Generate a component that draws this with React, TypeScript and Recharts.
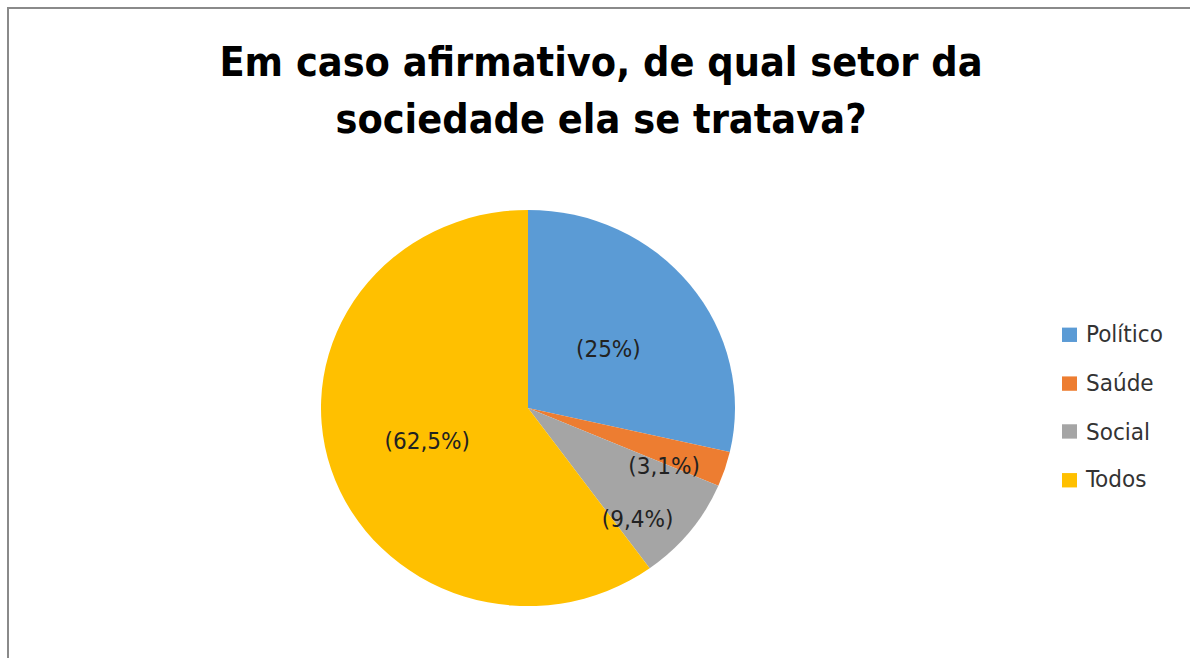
import { PieChart, Pie, Cell, Legend } from 'recharts'

const SECTORS = ['Político', 'Saúde', 'Social', 'Todos']
const COUNTS = [10, 1, 3, 21]
const LABELS = ['(25%)', '(3,1%)', '(9,4%)', '(62,5%)']
const COLORS = ['#5B9BD5', '#ED7D31', '#A5A5A5', '#FFC000']
// label placement: share of radius and angle nudge (deg) off the slice middle
const LABEL_POS = [0.49, 0.72, 0.77, 0.515]
const LABEL_TURN = [-1, -6, -8, 1]

const FONT = '"DejaVu Sans Condensed", "Liberation Sans", sans-serif'
const data = SECTORS.map((name, i) => ({ name, value: COUNTS[i] }))

const RAD = Math.PI / 180
// the original is stretched a little wider than tall
const SQUASH = 0.957

function renderLabel(props: any) {
  const { cx, cy, midAngle, outerRadius, index } = props
  const r = outerRadius * LABEL_POS[index]
  const a = (midAngle + LABEL_TURN[index]) * RAD
  const x = cx + r * Math.cos(-a)
  const y = cy + r * Math.sin(-a)
  return (
    <text x={x} y={y} textAnchor="middle" dominantBaseline="central"
      fill="#222" fontSize={24} fontFamily={FONT}>
      {LABELS[index]}
    </text>
  )
}

function SectorLegend() {
  return (
    <div style={{ fontFamily: FONT, fontSize: 24, color: '#333' }}>
      {SECTORS.map((s, i) => (
        <div key={s} style={{ display: 'flex', alignItems: 'center', height: 50.7 }}>
          <span style={{ width: 15, height: 15, background: COLORS[i], marginRight: 9 }} />
          {s}
        </div>
      ))}
    </div>
  )
}

export default function App() {
  return (
    <div style={{ position: 'absolute', left: 0, top: 0, width: 1190, height: 658, overflow: 'hidden', background: '#fff' }}>
      <div style={{ position: 'absolute', left: 7, top: 7, width: 1300, height: 800, border: '2px solid #8a8a8a' }} />
      <div style={{
        position: 'absolute', left: 0, top: 34, width: 1202, textAlign: 'center',
        fontFamily: FONT, fontWeight: 'bold', fontSize: 41, lineHeight: '57px', color: '#000',
      }}>
        Em caso afirmativo, de qual setor da<br />sociedade ela se tratava?
      </div>
      <div style={{ position: 'absolute', left: 0, top: 0, transform: `scaleY(${SQUASH})`, transformOrigin: '0 408px' }}>
        <PieChart width={1190} height={658} margin={{ top: 0, right: 0, bottom: 0, left: 0 }}>
          <Pie data={data} dataKey="value" nameKey="name" cx={528} cy={408}
            outerRadius={207} startAngle={90} endAngle={-270}
            stroke="none" label={renderLabel} labelLine={false}
            isAnimationActive={false}>
            {data.map((_, i) => <Cell key={i} fill={COLORS[i]} />)}
          </Pie>
          <Legend content={<SectorLegend />} wrapperStyle={{ left: 1062, top: 306, width: 128 }} />
        </PieChart>
      </div>
    </div>
  )
}
